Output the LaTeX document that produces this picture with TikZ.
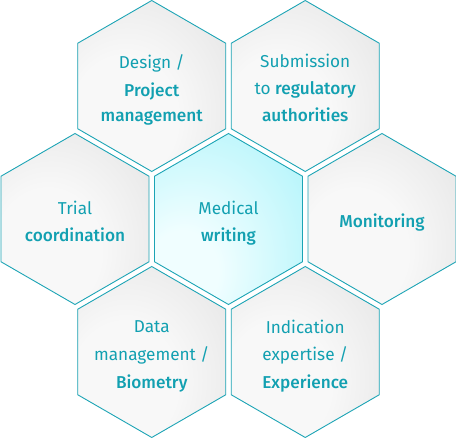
\documentclass[tikz,border=0pt]{standalone}
\usepackage{fontspec}
\setmainfont{Fira Sans}[BoldFont={Fira Sans Medium}]
\usetikzlibrary{shapes.geometric}
\definecolor{edgec}{HTML}{1CA4B5}
\definecolor{txtc}{HTML}{12A0B1}
\definecolor{gA}{HTML}{F8F8F8}
\definecolor{gB}{HTML}{DEDEDE}
\definecolor{cA}{HTML}{F0FEFF}
\definecolor{cB}{HTML}{A8F3FA}
\pgfdeclareradialshading{greyhex}{\pgfpoint{-12bp}{-12bp}}{color(0bp)=(gA); color(18bp)=(gA); color(52bp)=(gB); color(80bp)=(gB)}
\pgfdeclareradialshading{cyanhex}{\pgfpoint{-18bp}{-18bp}}{color(0bp)=(cA); color(12bp)=(cA); color(50bp)=(cB); color(85bp)=(cB)}
\newcommand\lnstrut{\rule[-12.75pt]{0pt}{25.5pt}}
\tikzset{
  hexa/.style={regular polygon, regular polygon sides=6, shape border rotate=30,
    minimum size=171pt, inner sep=0pt, draw=edgec, line width=0.9pt},
  greyhexa/.style={hexa, shade, shading=greyhex},
  cyanhexa/.style={hexa, shade, shading=cyanhex},
  lbl/.style={align=center, text=txtc, inner sep=0pt,
    font=\fontsize{17.2}{25.5}\selectfont}
}
\begin{document}
\begin{tikzpicture}[x=1pt,y=-1pt]
\useasboundingbox (0,0) rectangle (456,438);
\node[cyanhexa] (hM) at (228.5,219) {};
\node[greyhexa] (hD) at (151.75,86) {};
\node[greyhexa] (hS) at (305.25,86) {};
\node[greyhexa] (hT) at (75,219) {};
\node[greyhexa] (hO) at (382,219) {};
\node[greyhexa] (hB) at (151.75,352) {};
\node[greyhexa] (hI) at (305.25,352) {};
\node[lbl] (tD) at ([yshift=-8.5pt]hD.center) {\lnstrut Design /\\\lnstrut\textbf{Project}\\\lnstrut\textbf{management}};
\node[lbl] (tS) at ([yshift=-8.5pt]hS.center) {\lnstrut Submission\\\lnstrut to \textbf{regulatory}\\\lnstrut\textbf{authorities}};
\node[lbl] (tT) at ([yshift=-8.5pt]hT.center) {\lnstrut Trial\\\lnstrut\textbf{coordination}};
\node[lbl] (tM) at ([yshift=-8.5pt]hM.center) {\lnstrut Medical\\\lnstrut\textbf{writing}};
\node[lbl] (tO) at ([yshift=-8.5pt]hO.center) {\lnstrut\textbf{Monitoring}};
\node[lbl] (tB) at ([yshift=-8.5pt]hB.center) {\lnstrut Data\\\lnstrut management /\\\lnstrut\textbf{Biometry}};
\node[lbl] (tI) at ([yshift=-8.5pt]hI.center) {\lnstrut Indication\\\lnstrut expertise /\\\lnstrut\textbf{Experience}};
\end{tikzpicture}
\end{document}
